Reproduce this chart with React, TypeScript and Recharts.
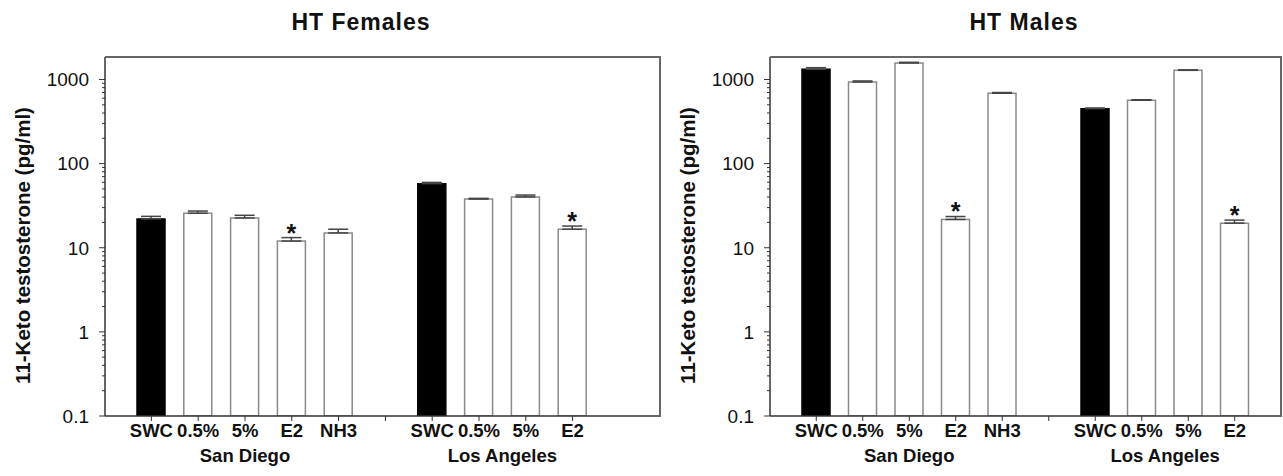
import { Bar, BarChart, Cell, ErrorBar, LabelList, XAxis, YAxis } from 'recharts';

const categories = ['SWC', '0.5%', '5%', 'E2', 'NH3', '', 'SWC', '0.5%', '5%', 'E2'];
const barColors = ['#000', '#fff', '#fff', '#fff', '#fff', '#fff', '#000', '#fff', '#fff', '#fff'];
const significant = [false, false, false, true, false, false, false, false, false, true];

const femaleValues = [22.0, 25.7, 22.6, 12.0, 15.0, null, 57.8, 37.9, 40.1, 16.6];
const femaleErrors = [1.6, 1.6, 1.7, 1.2, 1.6, null, 2.0, 0.7, 2.2, 1.5];

const maleValues = [1321, 934, 1570, 21.7, 686, null, 450, 566, 1285, 19.6];
const maleErrors = [59, 26, 30, 1.8, 14, null, 8, 8, 15, 1.7];

// group label sits under category index, shifted by a fraction of a slot
const groupNames = ['San Diego', 'Los Angeles'];
const groupAnchors = [2, 7];
const groupShifts = [0, 0.5];

const majorTicks = [0.1, 1, 10, 100, 1000];
const minorSteps = [2, 3, 4, 5, 6, 7, 8, 9];
const allTicks = majorTicks.flatMap(t => (t === 1000 ? [t] : [t, ...minorSteps.map(m => +(t * m).toPrecision(3))]));

const FONT = '"Liberation Sans", Arial, sans-serif';
const AXIS = '#333';
const SLOT = 46.7;

function buildRows(values, errors) {
    return categories.map((name, i) => ({
        name,
        value: values[i],
        err: errors[i] == null ? null : [0, errors[i]],
        sig: significant[i],
        color: barColors[i]
    }));
}

const YTick = ({ x, y, payload }) => {
    const major = majorTicks.includes(payload.value);
    return (
        <g>
            <line x1={x} x2={x - (major ? 6 : 3)} y1={y} y2={y} stroke={AXIS} strokeWidth={1} />
            {major && (
                <text x={x - 16} y={y} dy="0.36em" textAnchor="end" fontSize={19} fontFamily={FONT} fill="#111">
                    {String(payload.value)}
                </text>
            )}
        </g>
    );
};

const XTick = ({ x, y, payload, index }) => {
    const g = groupAnchors.indexOf(index);
    const style = { fontSize: 18.5, fontWeight: 'bold', fontFamily: FONT, fill: '#111' };
    return (
        <g>
            <text x={x} y={y} dy="0.71em" textAnchor="middle" {...style}>{payload.value}</text>
            {g >= 0 && (
                <text x={x + groupShifts[g] * SLOT} y={y + 25} dy="0.71em" textAnchor="middle" {...style}>
                    {groupNames[g]}
                </text>
            )}
        </g>
    );
};

const Star = ({ x, y, width, value }) => {
    if (!value) return null;
    return (
        <text x={x + width / 2} y={y + 1} textAnchor="middle" fontSize={25} fontWeight="bold" fontFamily={FONT} fill="#111">
            *
        </text>
    );
};

const YLabel = ({ viewBox }) => {
    const cx = viewBox.x + 22;
    const cy = viewBox.y + viewBox.height / 2 + 9;
    return (
        <text x={cx} y={cy} transform={`rotate(-90 ${cx} ${cy})`} textAnchor="middle" dominantBaseline="central"
            fontSize={20.5} fontWeight="bold" fontFamily={FONT} fill="#111">
            11-Keto testosterone (pg/ml)
        </text>
    );
};

function Panel({ title, titleCenter, values, errors, left, width, marginRight, padRight }) {
    const rows = buildRows(values, errors);
    const plotWidth = width - 105 - marginRight;
    return (
        <div style={{ position: 'absolute', left, top: 0, width, height: 476 }}>
            <div style={{ position: 'absolute', left: titleCenter - 150, top: 10, width: 300, textAlign: 'center',
                    fontFamily: FONT, fontWeight: 'bold', fontSize: 23, letterSpacing: 1, lineHeight: '24px', color: '#111' }}>
                {title}
            </div>
            <BarChart width={width} height={476} data={rows} margin={{ top: 57, right: marginRight, bottom: 0, left: 0 }}
                barSize={28}>
                <XAxis dataKey="name" type="category" interval={0} padding={{ left: 23, right: padRight }} height={60}
                    tickSize={5} tickMargin={3} axisLine={{ stroke: AXIS, strokeWidth: 1.5 }} tickLine={{ stroke: AXIS }}
                    tick={<XTick />} />
                <YAxis scale="log" domain={[0.1, 1850]} allowDataOverflow ticks={allTicks} interval={0} width={105}
                    tickSize={0} tickMargin={0} tickLine={false} tick={<YTick />}
                    axisLine={{ stroke: AXIS, strokeWidth: 1.5 }} label={<YLabel />} />
                <Bar dataKey="value" isAnimationActive={false} stroke="#8a8a8a" strokeWidth={1.5}>
                    {rows.map((r, i) => (
                        <Cell key={`c-${i}`} fill={r.color} stroke={r.color === '#000' ? '#000' : '#8a8a8a'} />
                    ))}
                    <ErrorBar dataKey="err" direction="y" width={10} stroke="#444" strokeWidth={1.5} />
                    <LabelList dataKey="sig" content={<Star />} />
                </Bar>
            </BarChart>
            <div style={{ position: 'absolute', left: 105, top: 56, width: plotWidth - 1, height: 359,
                    borderTop: '2px solid #666', borderRight: '2px solid #666', pointerEvents: 'none' }} />
        </div>
    );
}

export default function App() {
    return (
        <div style={{ position: 'absolute', left: 0, top: 0, width: 1283, height: 476, background: '#fff' }}>
            <Panel title="HT Females" titleCenter={361} values={femaleValues} errors={femaleErrors}
                left={0} width={662} marginRight={2} padRight={64} />
            <Panel title="HT Males" titleCenter={1024 - 665} values={maleValues} errors={maleErrors}
                left={665} width={618} marginRight={2} padRight={23} />
        </div>
    );
}
